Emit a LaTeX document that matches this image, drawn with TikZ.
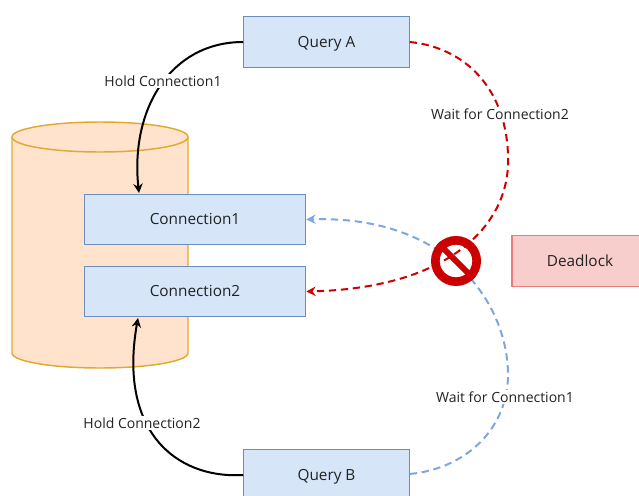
\documentclass[tikz,border=0pt]{standalone}
\usepackage{fontspec}
\setmainfont{Open Sans}
\usetikzlibrary{arrows.meta}
\definecolor{boxfill}{HTML}{D6E5F8}
\definecolor{boxline}{HTML}{6C8EBF}
\definecolor{dbfill}{HTML}{FFE3CC}
\definecolor{dbline}{HTML}{E2A92F}
\definecolor{lockfill}{HTML}{F8CECC}
\definecolor{lockline}{HTML}{EE7B76}
\definecolor{waitred}{HTML}{CC0000}
\definecolor{waitblue}{HTML}{7EA6E0}
\definecolor{inktext}{HTML}{222222}
\tikzset{
	box/.style={draw=boxline,fill=boxfill,line width=0.9pt,minimum height=38pt,text=inktext,text height=8.2pt,text depth=0pt,font=\fontsize{11.5}{13}\selectfont,inner sep=0pt},
	lockbox/.style={box,draw=lockline,fill=lockfill},
	holdline/.style={black,line width=1.5pt,-{Stealth[open,length=7pt,width=7pt]}},
	waitline/.style={dash pattern=on 5.5pt off 3.5pt,line width=1.5pt,-{Stealth[open,length=7pt,width=7pt]}},
	tag/.style={fill=white,inner sep=1.5pt,text=inktext,font=\fontsize{10.5}{12}\selectfont}
}
\begin{document}
\begin{tikzpicture}[x=0.75pt,y=-0.75pt]
				\clip (0,0) rectangle (639,496);

				\draw[draw=dbline,fill=dbfill,line width=1.1pt] (12,137) -- (12,353) arc[start angle=180,end angle=0,x radius=88,y radius=15] -- (188,137) arc[start angle=0,end angle=-180,x radius=88,y radius=15];
				\draw[draw=dbline,line width=1.1pt] (12,137) arc[start angle=180,end angle=0,x radius=88,y radius=15];

				\node[box,minimum width=124pt] (QueryA) at (326.5,42) {Query A};
				\node[box,minimum width=124pt] (QueryB) at (326.5,475) {Query B};
				\node[box,minimum width=166pt] (Conn1) at (195,219.5) {Connection1};
				\node[box,minimum width=166pt] (Conn2) at (195,291.5) {Connection2};
				\node[lockbox,minimum width=120pt] (Deadlock) at (592,261) {};
				\node[text=inktext,font=\fontsize{11.5}{13}\selectfont] (DeadlockText) at (580,261) {Deadlock};

				\draw[holdline] (QueryA.west) .. controls (170,42) and (130,110) .. (139,193);
				\draw[holdline] (QueryB.west) .. controls (175,479) and (118,430) .. (138,318);

				\coordinate (BlueMid) at (508,375);
				\draw[waitline,waitblue] (QueryB.east |- 0,474) .. controls (470,468) and (508,425) .. (BlueMid) .. controls (508,305) and (450,215) .. (Conn1.east);

				\node[circle,draw=waitred,fill=white,line width=6.5pt,minimum size=31pt,inner sep=0pt] (Stop) at (456,261) {};

				\coordinate (RedMid) at (508,165);
				\draw[waitline,waitred] (QueryA.east) .. controls (470,48) and (510,95) .. (RedMid) .. controls (506,225) and (450,288) .. (Conn2.east);

				\draw[waitred,line width=4.5pt] (Stop.135) -- (Stop.-45);

				\node[tag] (Hold1) at (163,81) {Hold Connection1};
				\node[tag] (Hold2) at (142,423) {Hold Connection2};
				\node[tag] (Wait2) at (500,114) {Wait for Connection2};
				\node[tag] (Wait1) at (505,397) {Wait for Connection1};
			\end{tikzpicture}
\end{document}
